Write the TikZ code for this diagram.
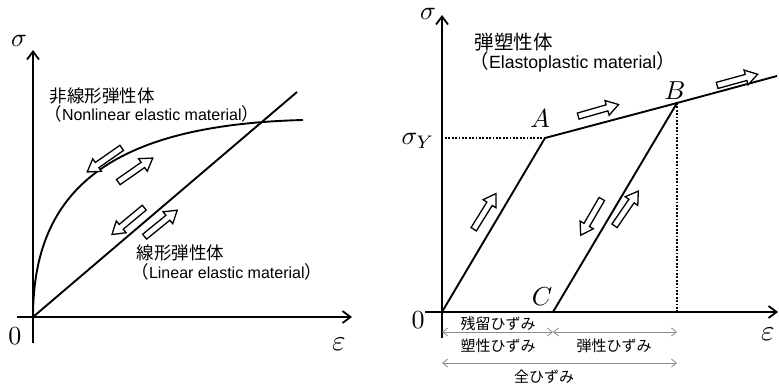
\documentclass[tikz,border=0pt]{standalone}
\usepackage{fontspec}
\newfontfamily\jp{Noto Sans CJK JP}
\newfontfamily\lat{Liberation Sans}
\usetikzlibrary{arrows.meta,shapes.arrows}
\begin{document}
\begin{tikzpicture}[x=1pt,y=-1pt,
        axis/.style={
          line width=2.2pt,
          -{Straight Barb[length=8pt,width=12pt,line width=1.8pt]}
        },
        curve/.style={line width=1.9pt},
        guide/.style={line width=1.7pt, dash pattern=on 1.7pt off 1.7pt},
        hollow/.style={
          single arrow,
          draw,
          fill=white,
          line width=1.3pt,
          inner xsep=0pt,
          inner ysep=2.5pt,
          single arrow head extend=4.5pt,
          single arrow tip angle=65,
          minimum height=42pt,
          sloped,
          allow upside down
        },
        dimline/.style={
          draw=black!45,
          line width=0.8pt,
          {Straight Barb[length=5pt,width=8pt,line width=0.8pt]}-{Straight Barb[length=5pt,width=8pt,line width=0.8pt]}
        },
        math/.style={font=\fontsize{10}{12}\selectfont, inner sep=0pt, scale=2.6, transform shape},
        bigmath/.style={font=\fontsize{10}{12}\selectfont, inner sep=0pt, scale=2.9, transform shape},
        lefttext/.style={anchor=west, font=\jp\fontsize{17.5}{20}\selectfont},
        righttext/.style={anchor=west, font=\jp\fontsize{19.5}{22}\selectfont},
        dimtext/.style={font=\jp\fontsize{15}{17}\selectfont}
      ]
      \useasboundingbox (0,0) rectangle (779,386);

      \coordinate (o1) at (33,317);
      \coordinate (ytop1) at (33,50);
      \coordinate (ybot1) at (33,343);
      \coordinate (xl1) at (17,317);
      \coordinate (xr1) at (352,317);
      \coordinate (nonlin) at (303,120);
      \coordinate (lin) at (297,92);

      \draw[axis] (ybot1) -- (ytop1);
      \draw[axis] (xl1) -- (xr1);
      \draw[curve] (o1) .. controls (33,190) and (110,125) .. (nonlin);
      \draw[curve] (o1) -- (lin);

      \node[math] (sig1) at (19,41) {$\sigma$};
      \node[math] (zero1) at (15,336) {$0$};
      \node[bigmath] (eps1) at (339,344) {$\varepsilon$};

      \node[lefttext] (nonlinjp) at (46,96) {非線形弾性体};
      \node[lefttext] (nonlinen) at (41,114) {（{\lat\fontsize{16}{18}\selectfont Nonlinear elastic material}）};
      \node[lefttext] (linjp) at (133,253) {線形弾性体};
      \node[lefttext] (linen) at (128,272) {（{\lat\fontsize{16}{18}\selectfont Linear elastic material}）};

      \path (123,147) -- node[hollow] (ha1) {} (90,170);
      \path (117,183) -- node[hollow] (ha2) {} (150,160);
      \path (145,207) -- node[hollow] (ha3) {} (115,232);
      \path (143,238) -- node[hollow] (ha4) {} (175,212);

      \coordinate (o2) at (442,312);
      \coordinate (ytop2) at (442,15);
      \coordinate (ybot2) at (442,338);
      \coordinate (xl2) at (425,312);
      \coordinate (xr2) at (778,312);
      \coordinate (yield) at (445,138);
      \coordinate (ptA) at (545,138);
      \coordinate (ptB) at (677,103);
      \coordinate (ptBfoot) at (677,312);
      \coordinate (ptC) at (553,312);
      \coordinate (hard) at (777,76);

      \draw[axis] (ybot2) -- (ytop2);
      \draw[axis] (xl2) -- (xr2);
      \draw[guide] (yield) -- (ptA);
      \draw[guide] (ptB) -- (ptBfoot);
      \draw[curve] (o2) -- (ptA) -- (ptB) -- (hard);
      \draw[curve] (ptC) -- (ptB);

      \node[math] (sig2) at (428,14) {$\sigma$};
      \node[math] (sigY) at (418,141) {$\sigma_Y$};
      \node[math] (zero2) at (418,320) {$0$};
      \node[bigmath] (eps2) at (768,334) {$\varepsilon$};
      \node[math] (labA) at (540,119) {$A$};
      \node[math] (labB) at (675,91) {$B$};
      \node[math] (labC) at (542,297) {$C$};

      \node[righttext] (epjp) at (471,42) {弾塑性体};
      \node[righttext] (epen) at (466,62) {（{\lat\fontsize{17.7}{20}\selectfont Elastoplastic material}）};

      \path (472,232) -- node[hollow] (hb1) {} (495,195);
      \path (575,117) -- node[hollow] (hb2) {} (617,105);
      \path (715,86) -- node[hollow] (hb3) {} (755,75);
      \path (603,197) -- node[hollow] (hb4) {} (582,233);
      \path (613,228) -- node[hollow] (hb5) {} (637,193);

      \coordinate (d1l) at (442,332);
      \coordinate (d1m) at (553,332);
      \coordinate (d1r) at (677,332);
      \coordinate (d2l) at (442,363);
      \coordinate (d2r) at (677,363);

      \draw[dimline] (d1l) -- (d1m);
      \draw[dimline] (d1m) -- (d1r);
      \draw[dimline] (d2l) -- (d2r);

      \node[dimtext] (resid) at (498,324) {残留ひずみ};
      \node[dimtext] (plast) at (498,346) {塑性ひずみ};
      \node[dimtext] (elast) at (614,346) {弾性ひずみ};
      \node[dimtext] (total) at (544,377) {全ひずみ};
    \end{tikzpicture}
\end{document}
